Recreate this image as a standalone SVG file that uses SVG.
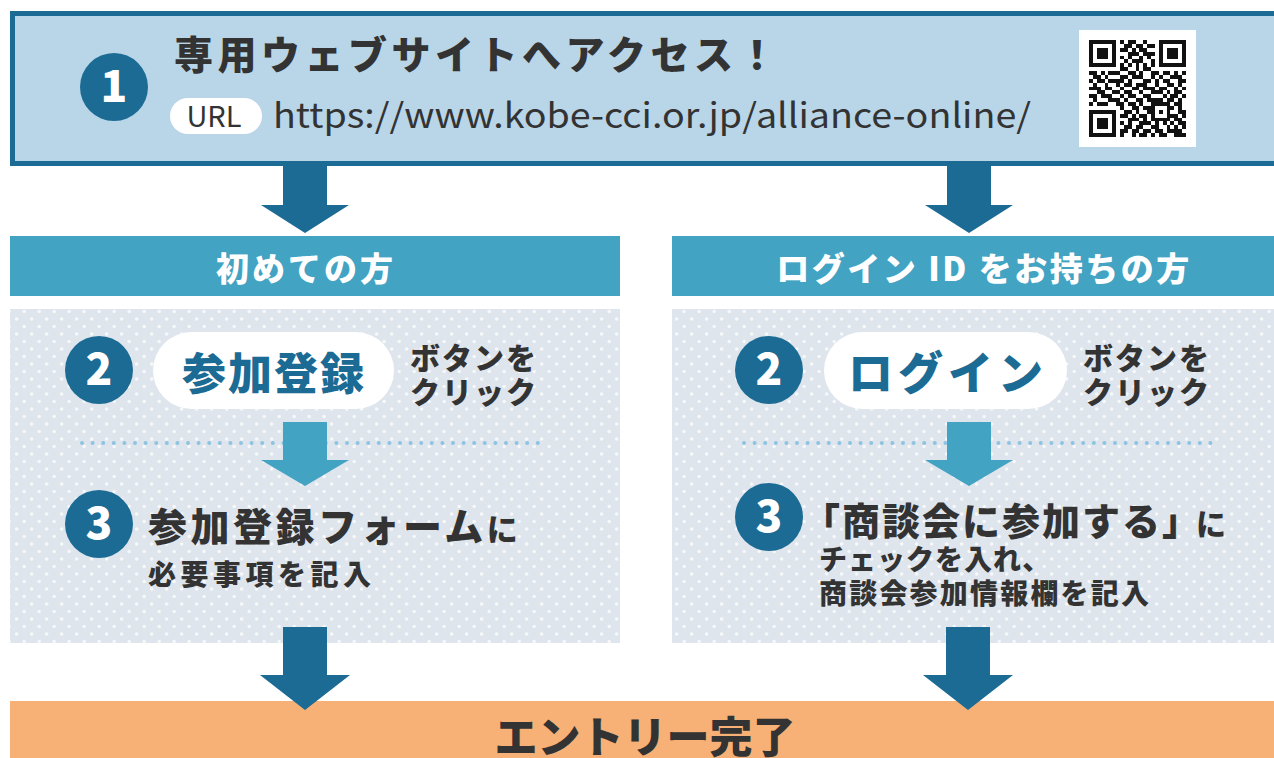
<svg xmlns="http://www.w3.org/2000/svg" width="1274" height="758" viewBox="0 0 1274 758">
<style>
.jp{font-family:"Noto Sans CJK JP","Noto Sans",sans-serif;}
.b{font-weight:900;}
.dark{fill:#333333;}
.wt{fill:#ffffff;}
.blue{fill:#1b6b94;}
.num{font-family:"Noto Sans CJK JP","Noto Sans",sans-serif;font-weight:900;font-size:44px;fill:#ffffff;text-anchor:middle;}
.circ{fill:#1b6b94;}
.pill{fill:#ffffff;}
.hdr{fill:#42a3c3;}
.dots{fill:none;stroke:#8dc4e2;stroke-width:4;stroke-linecap:round;stroke-dasharray:0 10.6;}
.arrD{fill:#1b6b94;}
.arrL{fill:#42a3c3;}
</style>
<defs>
<pattern id="dotpat" patternUnits="userSpaceOnUse" width="15" height="15">
<rect width="15" height="15" fill="#dee5ec"/>
<circle cx="1.7" cy="4" r="1.8" fill="#f6f8fa"/>
<circle cx="9.2" cy="11.5" r="1.8" fill="#f6f8fa"/>
</pattern>
</defs>
<rect width="1274" height="758" fill="#ffffff"/>

<g id="step1">
<rect x="12.5" y="13.5" width="1275" height="150" fill="#b9d6e8" stroke="#1b6b94" stroke-width="5"/>
<circle class="circ" cx="114" cy="87" r="34"/>
<text class="num" x="114" y="102">1</text>
<text class="jp b dark" x="174" y="69" font-size="39" letter-spacing="4.5">専用ウェブサイトへアクセス！</text>
<rect class="pill" x="170" y="98" width="92" height="36" rx="18"/>
<text class="jp dark" x="214" y="127" font-size="29" text-anchor="middle">URL</text>
<text class="jp dark" x="273" y="128" font-size="34" textLength="758" lengthAdjust="spacingAndGlyphs">https://www.kobe-cci.or.jp/alliance-online/</text>
<rect x="1079" y="30" width="117" height="117" fill="#ffffff"/>
<g transform="translate(1089,40) scale(3.88)">
<path fill="#111111" shape-rendering="crispEdges" d="M0 0h7v1h-7zM8 0h1v1h-1zM10 0h2v1h-2zM14 0h1v1h-1zM18 0h7v1h-7z
M0 1h1v1h-1zM6 1h1v1h-1zM9 1h2v1h-2zM12 1h2v1h-2zM15 1h2v1h-2zM18 1h1v1h-1zM24 1h1v1h-1z
M0 2h1v1h-1zM2 2h3v1h-3zM6 2h1v1h-1zM8 2h2v1h-2zM11 2h1v1h-1zM13 2h2v1h-2zM18 2h1v1h-1zM20 2h3v1h-3zM24 2h1v1h-1z
M0 3h1v1h-1zM2 3h3v1h-3zM6 3h1v1h-1zM10 3h3v1h-3zM14 3h3v1h-3zM18 3h1v1h-1zM20 3h3v1h-3zM24 3h1v1h-1z
M0 4h1v1h-1zM2 4h3v1h-3zM6 4h1v1h-1zM8 4h1v1h-1zM10 4h1v1h-1zM13 4h1v1h-1zM15 4h1v1h-1zM18 4h1v1h-1zM20 4h3v1h-3zM24 4h1v1h-1z
M0 5h1v1h-1zM6 5h1v1h-1zM9 5h1v1h-1zM11 5h3v1h-3zM16 5h1v1h-1zM18 5h1v1h-1zM24 5h1v1h-1z
M0 6h7v1h-7zM8 6h1v1h-1zM10 6h1v1h-1zM12 6h1v1h-1zM14 6h1v1h-1zM16 6h1v1h-1zM18 6h7v1h-7z
M8 7h2v1h-2zM12 7h1v1h-1zM14 7h2v1h-2z
M0 8h2v1h-2zM3 8h1v1h-1zM5 8h3v1h-3zM10 8h2v1h-2zM13 8h1v1h-1zM16 8h2v1h-2zM19 8h2v1h-2zM22 8h1v1h-1zM24 8h1v1h-1z
M1 9h2v1h-2zM4 9h1v1h-1zM8 9h2v1h-2zM11 9h3v1h-3zM16 9h1v1h-1zM18 9h1v1h-1zM21 9h3v1h-3z
M0 10h1v1h-1zM2 10h2v1h-2zM5 10h4v1h-4zM10 10h1v1h-1zM14 10h2v1h-2zM17 10h1v1h-1zM19 10h2v1h-2zM23 10h2v1h-2z
M1 11h1v1h-1zM4 11h1v1h-1zM7 11h1v1h-1zM9 11h2v1h-2zM12 11h3v1h-3zM17 11h1v1h-1zM20 11h2v1h-2zM23 11h1v1h-1z
M0 12h3v1h-3zM4 12h2v1h-2zM8 12h1v1h-1zM11 12h2v1h-2zM14 12h3v1h-3zM18 12h2v1h-2zM22 12h1v1h-1zM24 12h1v1h-1z
M2 13h2v1h-2zM6 13h2v1h-2zM9 13h2v1h-2zM13 13h1v1h-1zM16 13h3v1h-3zM20 13h1v1h-1zM22 13h2v1h-2z
M0 14h2v1h-2zM3 14h3v1h-3zM8 14h1v1h-1zM10 14h2v1h-2zM14 14h2v1h-2zM19 14h1v1h-1zM21 14h2v1h-2zM24 14h1v1h-1z
M1 15h1v1h-1zM5 15h3v1h-3zM9 15h1v1h-1zM12 15h2v1h-2zM15 15h4v1h-4zM20 15h2v1h-2zM23 15h1v1h-1z
M0 16h1v1h-1zM2 16h3v1h-3zM7 16h2v1h-2zM10 16h2v1h-2zM13 16h1v1h-1zM16 16h5v1h-5zM22 16h2v1h-2z
M8 17h1v1h-1zM11 17h2v1h-2zM14 17h3v1h-3zM20 17h2v1h-2zM23 17h1v1h-1z
M0 18h7v1h-7zM9 18h2v1h-2zM12 18h1v1h-1zM15 18h2v1h-2zM18 18h1v1h-1zM20 18h1v1h-1zM23 18h2v1h-2z
M0 19h1v1h-1zM6 19h1v1h-1zM8 19h2v1h-2zM11 19h1v1h-1zM13 19h2v1h-2zM16 19h1v1h-1zM20 19h3v1h-3zM24 19h1v1h-1z
M0 20h1v1h-1zM2 20h3v1h-3zM6 20h1v1h-1zM10 20h3v1h-3zM14 20h1v1h-1zM16 20h5v1h-5zM22 20h2v1h-2z
M0 21h1v1h-1zM2 21h3v1h-3zM6 21h1v1h-1zM8 21h1v1h-1zM10 21h1v1h-1zM13 21h3v1h-3zM17 21h1v1h-1zM19 21h1v1h-1zM21 21h1v1h-1zM23 21h2v1h-2z
M0 22h1v1h-1zM2 22h3v1h-3zM6 22h1v1h-1zM9 22h2v1h-2zM12 22h2v1h-2zM16 22h2v1h-2zM20 22h1v1h-1zM22 22h1v1h-1zM24 22h1v1h-1z
M0 23h1v1h-1zM6 23h1v1h-1zM8 23h2v1h-2zM11 23h2v1h-2zM14 23h2v1h-2zM17 23h2v1h-2zM20 23h4v1h-4z
M0 24h7v1h-7zM8 24h1v1h-1zM11 24h1v1h-1zM13 24h2v1h-2zM16 24h1v1h-1zM18 24h2v1h-2zM22 24h3v1h-3z"/>
</g>
</g>

<g id="header-first">
<rect class="hdr" x="10" y="236" width="610" height="60"/>
<text class="jp b wt" x="306" y="281" font-size="33" letter-spacing="3" text-anchor="middle">初めての方</text>
</g>
<g id="header-login">
<rect class="hdr" x="672" y="236" width="610" height="60"/>
<text class="jp b wt" x="984" y="281" font-size="33" letter-spacing="2.5" text-anchor="middle">ログイン ID をお持ちの方</text>
</g>

<g id="panel-first">
<rect x="10" y="309" width="610" height="334" fill="url(#dotpat)"/>
<line class="dots" x1="82" y1="443" x2="545" y2="443"/>
</g>
<g id="panel-login">
<rect x="672" y="309" width="610" height="334" fill="url(#dotpat)"/>
<line class="dots" x1="744" y1="443" x2="1212" y2="443"/>
</g>

<g id="first-step2">
<circle class="circ" cx="99" cy="370" r="34"/>
<text class="num" x="99" y="385">2</text>
<rect class="pill" x="153" y="332" width="241" height="77" rx="38.5"/>
<text class="jp b blue" x="274" y="390" font-size="44" letter-spacing="2" text-anchor="middle">参加登録</text>
<text class="jp b dark" x="410" y="369" font-size="30" letter-spacing="2">ボタンを</text>
<text class="jp b dark" x="410" y="403" font-size="30" letter-spacing="2">クリック</text>
</g>

<g id="first-step3">
<circle class="circ" cx="99" cy="524" r="34"/>
<text class="num" x="99" y="539">3</text>
<text class="jp b dark" x="148" y="541" font-size="39" letter-spacing="3.5">参加登録フォーム<tspan font-size="31" letter-spacing="0">に</tspan></text>
<text class="jp b dark" x="148" y="585" font-size="28" letter-spacing="4.5">必要事項を記入</text>
</g>

<g id="login-step2">
<circle class="circ" cx="769" cy="370" r="34"/>
<text class="num" x="769" y="385">2</text>
<rect class="pill" x="824" y="332" width="243" height="77" rx="38.5"/>
<text class="jp b blue" x="948" y="390" font-size="45" letter-spacing="5" text-anchor="middle">ログイン</text>
<text class="jp b dark" x="1083" y="369" font-size="30" letter-spacing="2">ボタンを</text>
<text class="jp b dark" x="1083" y="403" font-size="30" letter-spacing="2">クリック</text>
</g>

<g id="login-step3">
<circle class="circ" cx="769" cy="517" r="34"/>
<text class="num" x="769" y="532">3</text>
<text class="jp b dark" x="802" y="535" font-size="38" letter-spacing="2">「商談会に参加する」<tspan font-size="30" letter-spacing="0" dx="-6">に</tspan></text>
<text class="jp b dark" x="819" y="570" font-size="28" letter-spacing="1">チェックを入れ、</text>
<text class="jp b dark" x="819" y="604" font-size="28" letter-spacing="2.2">商談会参加情報欄を記入</text>
</g>

<g id="entry-complete">
<rect x="10" y="701" width="1274" height="57" fill="#f7b075"/>
<text class="jp b dark" x="645" y="753" font-size="43" text-anchor="middle">エントリー完了</text>
</g>

<g id="connectors">
<polygon class="arrD" points="283,166 327,166 327,205 349,205 305,233 261,205 283,205"/>
<polygon class="arrD" points="947,166 991,166 991,205 1013,205 969,233 925,205 947,205"/>
<polygon class="arrL" points="283,422 327,422 327,460 349,460 305,486 261,460 283,460"/>
<polygon class="arrL" points="947,422 991,422 991,460 1013,460 969,486 925,460 947,460"/>
<polygon class="arrD" points="283,627 327,627 327,675 350,675 305,710 260,675 283,675"/>
<polygon class="arrD" points="946,627 990,627 990,675 1013,675 968,710 923,675 946,675"/>
</g>
</svg>
